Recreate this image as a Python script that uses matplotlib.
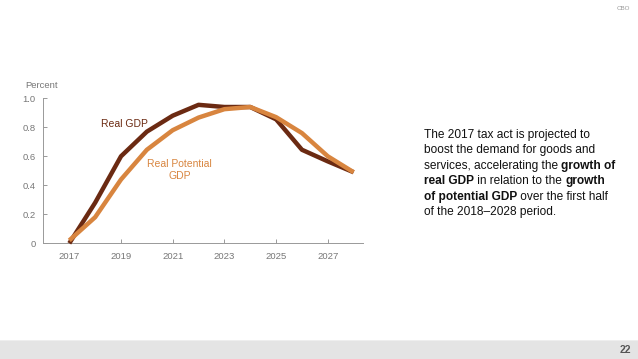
import matplotlib
matplotlib.use("Agg")
import matplotlib.pyplot as plt
from matplotlib.patches import Rectangle

plt.rcParams['font.family'] = ['Liberation Sans', 'DejaVu Sans']

years = [2017, 2018, 2019, 2020, 2021, 2022, 2023, 2024, 2025, 2026, 2027, 2028]
real_gdp = [0.0, 0.28, 0.60, 0.77, 0.88, 0.955, 0.94, 0.94, 0.855, 0.645, 0.565, 0.49]
potential_gdp = [0.02, 0.18, 0.44, 0.645, 0.78, 0.867, 0.925, 0.94, 0.87, 0.76, 0.60, 0.49]
xticks = [2017, 2019, 2021, 2023, 2025, 2027]
yticks = [0, 0.2, 0.4, 0.6, 0.8, 1.0]
ytick_labels = ['0', '0.2', '0.4', '0.6', '0.8', '1.0']

dark = '#6b2a12'
orange = '#d8853f'
grey_txt = '#777777'

W, H = 638, 359
fig = plt.figure(figsize=(W / 100, H / 100), dpi=100)

# axes placed in pixel terms
left, right = 42.7, 363.0
bottom, top = 243.3, 98.3
ax = fig.add_axes([left / W, 1 - bottom / H, (right - left) / W, (bottom - top) / H])
x0 = 2017 - (69.3 - left) / 25.85
x1 = 2017 + (right - 69.3) / 25.85
ax.set_xlim(x0, x1)
ax.set_ylim(0, 1.0)

ax.plot(years, real_gdp, color=dark, lw=3.2, clip_on=False, solid_capstyle='butt', zorder=3)
ax.plot(years, potential_gdp, color=orange, lw=3.2, clip_on=False, solid_capstyle='butt', zorder=4)

for s in ['top', 'right']:
    ax.spines[s].set_visible(False)
for s in ['left', 'bottom']:
    ax.spines[s].set_color('#999999')
    ax.spines[s].set_linewidth(0.7)

ax.set_xticks(xticks)
ax.set_xticklabels([str(y) for y in xticks])
ax.set_yticks(yticks)
ax.set_yticklabels(ytick_labels)
ax.tick_params(direction='in', length=3, width=0.7, color='#999999',
               labelsize=6.8, labelcolor=grey_txt)
ax.tick_params(axis='x', pad=6)
ax.tick_params(axis='y', pad=5)

ax.text(2019.12, 0.82, 'Real GDP', color=dark, fontsize=7.5, ha='center', va='center')
ax.text(2021.26, 0.505, 'Real Potential\nGDP', color=orange, fontsize=7.5, ha='center',
        va='center', linespacing=1.3)
fig.text(25 / W, 1 - 86 / H, 'Percent', fontsize=6.8, color=grey_txt, va='center')

# right-hand description
lines = [
    [('The 2017 tax act is projected to', 'normal')],
    [('boost the demand for goods and', 'normal')],
    [('services, accelerating the ', 'normal'), ('growth of', 'bold')],
    [('real GDP', 'bold'), (' in relation to the ', 'normal'), ('growth', 'bold')],
    [('of potential GDP', 'bold'), (' over the first half', 'normal')],
    [('of the 2018\u20132028 period.', 'normal')],
]
renderer = fig.canvas.get_renderer()
for i, parts in enumerate(lines):
    x = 424
    y = 135 + i * 15.4
    for txt, wt in parts:
        t = fig.text(x / W, 1 - y / H, txt, fontsize=8.6, fontweight=wt,
                     color='#111111', va='center', ha='left')
        bb = t.get_window_extent(renderer=renderer)
        x += bb.width

# footer bar and page number
fig.patches.append(Rectangle((0, 0), 1, 18 / H, transform=fig.transFigure,
                             facecolor='#e4e4e4', edgecolor='none'))
fig.patches.append(Rectangle((0, 18 / H), 1, 1 / H, transform=fig.transFigure,
                             facecolor='#eeeeee', edgecolor='none'))
fig.text(631 / W, 1 - 350 / H, '22', fontsize=7.5, fontweight='bold', color='#555555',
         ha='right', va='center')
fig.text(630 / W, 1 - 9 / H, 'CBO', fontsize=4.5, color='#999999', ha='right', va='center')

fig.savefig('out.png', dpi=100)
